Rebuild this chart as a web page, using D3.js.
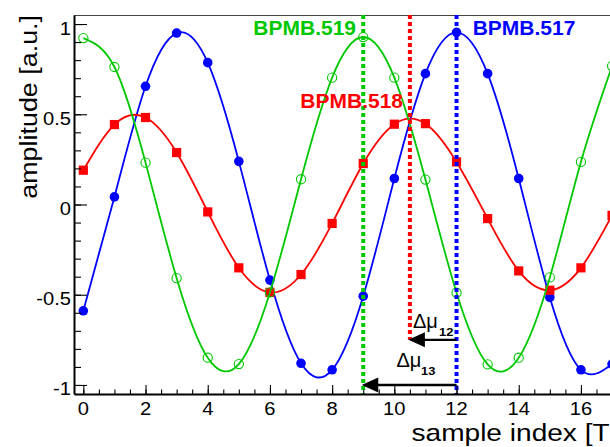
<!DOCTYPE html>
<html>
<head>
<meta charset="utf-8">
<script src="https://cdn.jsdelivr.net/npm/d3@7"></script>
<style>
  body { margin: 0; background: #fff; }
  svg { display: block; }
</style>
</head>
<body>
<script>
// Beam position monitor signals sampled over time
const sampleIndex = [0, 1, 2, 3, 4, 5, 6, 7, 8, 9, 10, 11, 12, 13, 14, 15, 16, 17];
const bpmb517 = [-0.589, 0.042, 0.655, 0.950, 0.786, 0.239, -0.419, -0.880, -0.916, -0.508,
                 0.144, 0.725, 0.954, 0.725, 0.144, -0.515, -0.916, -0.884];
const bpmb518 = [0.190, 0.443, 0.482, 0.288, -0.041, -0.351, -0.487, -0.388, -0.105, 0.227,
                 0.445, 0.448, 0.236, -0.078, -0.368, -0.475, -0.351, -0.060];
const bpmb519 = [0.922, 0.762, 0.232, -0.408, -0.849, -0.884, -0.487, 0.140, 0.703, 0.928,
                 0.703, 0.138, -0.489, -0.886, -0.849, -0.404, 0.236, 0.767];

// Peak positions of each monitor (sample index) and their labels
const monitorNames = ["BPMB.517", "BPMB.518", "BPMB.519"];
const monitorPeaks = [12, 10.5, 9];

// Phase advance arrows: from monitor 517 back to 518 and 519
const phaseLabels = ["12", "13"];
const phaseFrom = [12, 12];
const phaseTo = [10.5, 9];
const phaseLevel = [-0.75, -1.0];

const yTickValues = [-1, -0.5, 0, 0.5, 1];
const yTickLabels = ["-1", "-0.5", "0", "0.5", "1"];
const xTickValues = [0, 2, 4, 6, 8, 10, 12, 14, 16];
const xTickLabels = ["0", "2", "4", "6", "8", "10", "12", "14", "16"];

const W = 610, H = 447;
const FONT = "'Liberation Sans', Arial, Helvetica, sans-serif";
const GREEN = "#00c800", RED = "#ff0000", BLUE = "#0000ff";

const svg = d3.select("body").append("svg")
  .attr("width", W).attr("height", H)
  .attr("viewBox", `0 0 ${W} ${H}`);

const frameLeft = 74, frameTop = 15, frameBottom = 394;
const x = d3.scaleLinear().domain([-0.3, 17.7]).range([frameLeft, frameLeft + 18 * 31.1]);
const y = d3.scaleLinear().domain([-1.05, 1.05]).range([frameBottom, frameTop]);

// Wide-set text helper
function label(g, px, py, str, o = {}) {
  return g.append("text")
    .attr("transform", `translate(${px},${py}) rotate(${o.rot || 0}) scale(${o.sx || 1.12},1)`)
    .attr("font-family", FONT)
    .attr("font-size", o.size || 18)
    .attr("font-weight", o.weight || "normal")
    .attr("fill", o.fill || "#000")
    .attr("text-anchor", o.anchor || "start")
    .text(str);
}

// top frame line
svg.append("line")
  .attr("x1", frameLeft).attr("x2", W).attr("y1", frameTop + 0.5).attr("y2", frameTop + 0.5)
  .attr("stroke", "#444").attr("stroke-width", 1.2);

// Clip for plot content
svg.append("clipPath").attr("id", "plotClip")
  .append("rect").attr("x", frameLeft).attr("y", frameTop)
  .attr("width", W - frameLeft).attr("height", frameBottom - frameTop);
const plot = svg.append("g").attr("clip-path", "url(#plotClip)");

const line = d3.line()
  .x((d, i) => x(sampleIndex[i]))
  .y(d => y(d))
  .curve(d3.curveNatural);

// Blue series (filled circles)
plot.append("path").datum(bpmb517).attr("d", line)
  .attr("fill", "none").attr("stroke", BLUE).attr("stroke-width", 1.8);
plot.selectAll(".p517").data(bpmb517).join("circle")
  .attr("cx", (d, i) => x(sampleIndex[i])).attr("cy", d => y(d))
  .attr("r", 4.8).attr("fill", BLUE);

// Red series (filled squares)
plot.append("path").datum(bpmb518).attr("d", line)
  .attr("fill", "none").attr("stroke", RED).attr("stroke-width", 1.8);
plot.selectAll(".p518").data(bpmb518).join("rect")
  .attr("x", (d, i) => x(sampleIndex[i]) - 4.6).attr("y", d => y(d) - 4.6)
  .attr("width", 9.2).attr("height", 9.2).attr("fill", RED);

// Green series (open circles)
plot.append("path").datum(bpmb519).attr("d", line)
  .attr("fill", "none").attr("stroke", GREEN).attr("stroke-width", 1.8);
plot.selectAll(".p519").data(bpmb519).join("circle")
  .attr("cx", (d, i) => x(sampleIndex[i])).attr("cy", d => y(d))
  .attr("r", 4.6).attr("fill", "none").attr("stroke", GREEN).attr("stroke-width", 1.1);

// Vertical dotted markers at each monitor peak
const markerColor = [BLUE, RED, GREEN];
const markerEnd = [-1.05, phaseLevel[0], -1.05];
monitorPeaks.forEach((p, i) => {
  plot.append("line")
    .attr("x1", x(p)).attr("x2", x(p))
    .attr("y1", frameTop).attr("y2", y(markerEnd[i]))
    .attr("stroke", markerColor[i]).attr("stroke-width", 4)
    .attr("stroke-dasharray", "4,3");
});

// Phase-advance arrows
phaseLabels.forEach((lab, i) => {
  const x0 = x(phaseFrom[i]), x1 = x(phaseTo[i]), yy = y(phaseLevel[i]);
  plot.append("line")
    .attr("x1", x0).attr("x2", x1 + 12).attr("y1", yy).attr("y2", yy)
    .attr("stroke", "#000").attr("stroke-width", 2.4);
  plot.append("path")
    .attr("d", `M${x1 - 1.5},${yy} L${x1 + 15},${yy - 7.5} L${x1 + 15},${yy + 7.5} Z`)
    .attr("fill", "#000");
});

// Δμ labels
label(svg, 413, 328, "Δμ", { size: 20, sx: 1.0 });
label(svg, 439, 335.5, phaseLabels[0], { size: 11.5, weight: "bold", sx: 1.12 });
label(svg, 396.5, 366.5, "Δμ", { size: 20, sx: 1.0 });
label(svg, 421, 375, phaseLabels[1], { size: 11.5, weight: "bold", sx: 1.12 });

// Monitor name labels
label(svg, 472.7, 35, monitorNames[0], { size: 20, weight: "bold", fill: BLUE, sx: 1.05 });
label(svg, 403, 108, monitorNames[1], { size: 20, weight: "bold", fill: RED, sx: 1.05, anchor: "end" });
label(svg, 356, 34.5, monitorNames[2], { size: 20, weight: "bold", fill: GREEN, sx: 1.05, anchor: "end" });

// Axes: ticks drawn inside the frame
const yMinor = d3.range(-10, 11).map(v => v / 10);
const xMinor = d3.range(0, 36).map(v => v / 2);

svg.append("g").attr("transform", `translate(${frameLeft},0)`)
  .call(d3.axisLeft(y).tickValues(yMinor).tickSizeInner(-7).tickSizeOuter(0).tickFormat(""))
  .call(g => g.selectAll(".tick line").attr("stroke-width", 1.1))
  .call(g => g.select(".domain").remove());
svg.append("g").attr("transform", `translate(${frameLeft},0)`)
  .call(d3.axisLeft(y).tickValues(yTickValues).tickSizeInner(-13).tickSizeOuter(0).tickFormat(""))
  .call(g => g.selectAll(".tick line").attr("stroke-width", 1.1))
  .call(g => g.select(".domain").attr("stroke-width", 2));

svg.append("g").attr("transform", `translate(0,${frameBottom})`)
  .call(d3.axisBottom(x).tickValues(xMinor).tickSizeInner(-4.5).tickSizeOuter(0).tickFormat(""))
  .call(g => g.selectAll(".tick line").attr("stroke-width", 1.1))
  .call(g => g.select(".domain").remove());
svg.append("g").attr("transform", `translate(0,${frameBottom})`)
  .call(d3.axisBottom(x).tickValues(xTickValues).tickSizeInner(-9).tickSizeOuter(0).tickFormat(""))
  .call(g => g.selectAll(".tick line").attr("stroke-width", 1.1))
  .call(g => g.select(".domain").attr("stroke-width", 2));

// Tick labels
yTickValues.forEach((v, i) => label(svg, 71, y(v) + 10.5, yTickLabels[i], { anchor: "end" }));
xTickValues.forEach((v, i) => label(svg, x(v), 415, xTickLabels[i], { anchor: "middle" }));

// Axis titles
label(svg, 37, 15, "amplitude [a.u.]", { size: 24, rot: -90, anchor: "end" });
const xt = label(svg, 411.5, 440.5, "sample index [T", { size: 24, sx: 1.17 });
xt.append("tspan").attr("font-size", 16).attr("dy", 9).text("s");
xt.append("tspan").attr("dy", -9).text("]");
</script>
</body>
</html>
